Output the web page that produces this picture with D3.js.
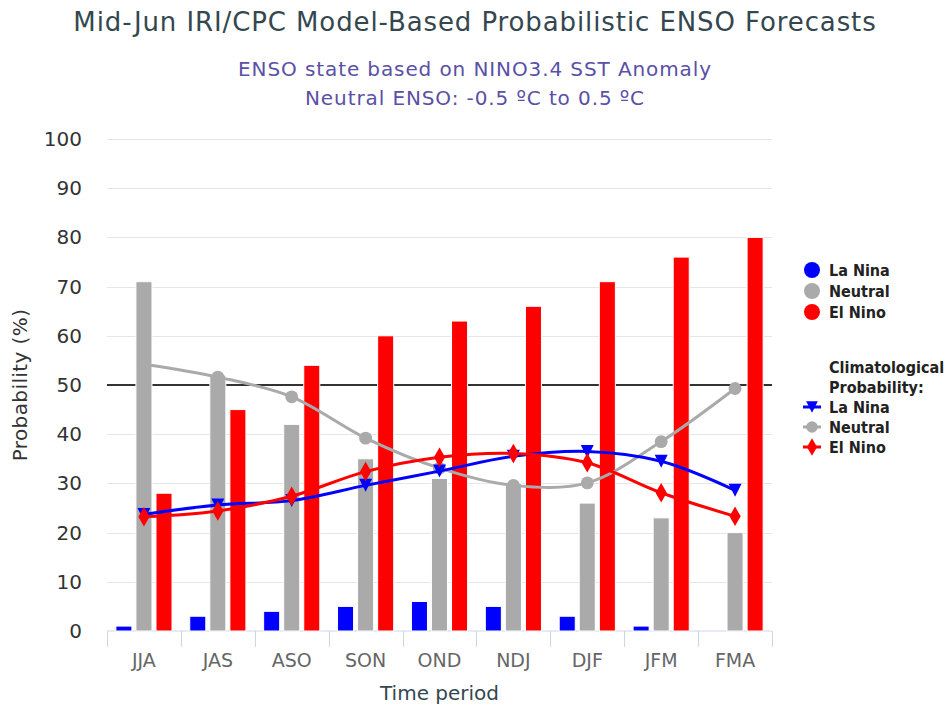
<!DOCTYPE html>
<meta charset="utf-8">
<style>
body { margin: 0; background: #fff; }
svg text { font-family: "DejaVu Sans", sans-serif; }
svg text.cond { font-family: "DejaVu Sans Condensed", "DejaVu Sans", sans-serif; }
.grid line { stroke: #e6e6e6; }
</style>
<body>
<div id="chart"></div>
<script src="https://cdnjs.cloudflare.com/ajax/libs/d3/7.8.5/d3.min.js"></script>
<script>
// seasons
var periods = ["JJA", "JAS", "ASO", "SON", "OND", "NDJ", "DJF", "JFM", "FMA"];

// model forecast probabilities (bars)
var laNina  = [1, 3, 4, 5, 6, 5, 3, 1, 0];
var neutral = [71, 52, 42, 35, 31, 30, 26, 23, 20];
var elNino  = [28, 45, 54, 60, 63, 66, 71, 76, 80];

// climatological probabilities (lines)
var climLaNina  = [23.7, 25.6, 26.5, 29.6, 32.5, 35.5, 36.5, 34.5, 28.6];
var climNeutral = [54.2, 51.6, 47.6, 39.2, 33.1, 29.6, 30.1, 38.5, 49.3];
var climElNino  = [23.2, 24.4, 27.4, 32.4, 35.3, 36.1, 34.2, 28.1, 23.3];

var yTicks = [0, 10, 20, 30, 40, 50, 60, 70, 80, 90, 100];

var seriesNames = ["La Nina", "Neutral", "El Nino"];
var colors = {"La Nina": "#0000ff", "Neutral": "#aaaaaa", "El Nino": "#ff0000"};

var W = 950, H = 706;
var margin = {top: 139, right: 178, bottom: 75, left: 107};
var width = W - margin.left - margin.right,
    height = H - margin.top - margin.bottom;

var svg = d3.select("#chart").append("svg")
    .attr("width", W)
    .attr("height", H);

// titles
svg.append("text")
    .attr("x", 475).attr("y", 31)
    .attr("text-anchor", "middle")
    .style("font-size", "26px")
    .style("letter-spacing", "0.9px")
    .attr("fill", "#34474f")
    .text("Mid-Jun IRI/CPC Model-Based Probabilistic ENSO Forecasts");

svg.append("text")
    .attr("x", 475).attr("y", 76)
    .attr("text-anchor", "middle")
    .style("font-size", "20px")
    .style("letter-spacing", "0.9px")
    .attr("fill", "#5a50a6")
    .text("ENSO state based on NINO3.4 SST Anomaly");

svg.append("text")
    .attr("x", 475).attr("y", 105)
    .attr("text-anchor", "middle")
    .style("font-size", "20px")
    .style("letter-spacing", "0.9px")
    .attr("fill", "#5a50a6")
    .text("Neutral ENSO: -0.5 \u00baC to 0.5 \u00baC");

var g = svg.append("g")
    .attr("transform", "translate(" + margin.left + "," + margin.top + ")");

var x0 = d3.scaleBand().domain(periods).range([0, width]);
var x1 = d3.scaleBand().domain(seriesNames)
    .range([x0.bandwidth() * 0.12, x0.bandwidth() * 0.88])
    .paddingInner(0.2);
var y = d3.scaleLinear().domain([0, 100]).range([height, 0]);

// grid
g.append("g").attr("class", "grid")
  .selectAll("line")
  .data(yTicks.slice(1))
  .enter().append("line")
    .attr("x1", 0).attr("x2", width)
    .attr("y1", function(d) { return Math.round(y(d)) + 0.5; })
    .attr("y2", function(d) { return Math.round(y(d)) + 0.5; });

// y labels
g.append("g").selectAll("text")
  .data(yTicks)
  .enter().append("text")
    .attr("x", -25)
    .attr("y", function(d) { return y(d); })
    .attr("dy", "0.35em")
    .attr("text-anchor", "end")
    .style("font-size", "20px")
    .attr("fill", "#333")
    .text(function(d) { return d; });

// 50% line
g.append("line")
    .attr("x1", 0).attr("x2", width)
    .attr("y1", y(50)).attr("y2", y(50))
    .attr("stroke", "#333").attr("stroke-width", 2);

// x axis
var xaxis = g.append("g")
    .attr("transform", "translate(0," + height + ")");
xaxis.append("line")
    .attr("x1", 0).attr("x2", width)
    .attr("stroke", "#ccd6eb");
xaxis.selectAll(".tk")
  .data(periods.concat(["end"]))
  .enter().append("line")
    .attr("x1", function(d, i) { return Math.round(i * x0.step()) + 0.5; })
    .attr("x2", function(d, i) { return Math.round(i * x0.step()) + 0.5; })
    .attr("y1", 0).attr("y2", 16)
    .attr("stroke", "#ccd6eb");
xaxis.selectAll(".lbl")
  .data(periods)
  .enter().append("text")
    .attr("x", function(d) { return x0(d) + x0.bandwidth() / 2; })
    .attr("y", 36)
    .attr("text-anchor", "middle")
    .style("font-size", "19px")
    .attr("fill", "#666")
    .text(function(d) { return d; });

// axis titles
svg.append("text")
    .attr("x", margin.left + width / 2).attr("y", 700)
    .attr("text-anchor", "middle")
    .style("font-size", "20px")
    .attr("fill", "#34474f")
    .text("Time period");

svg.append("text")
    .attr("transform", "translate(27," + (margin.top + height / 2) + ") rotate(-90)")
    .attr("text-anchor", "middle")
    .style("font-size", "20px")
    .style("letter-spacing", "0.4px")
    .attr("fill", "#333")
    .text("Probability (%)");

// bars
var barData = [];
periods.forEach(function(p, i) {
  barData.push({period: p, name: "La Nina", value: laNina[i]});
  barData.push({period: p, name: "Neutral", value: neutral[i]});
  barData.push({period: p, name: "El Nino", value: elNino[i]});
});

g.selectAll(".bar")
  .data(barData.filter(function(d) { return d.value > 0; }))
  .enter().append("rect")
    .attr("class", "bar")
    .attr("x", function(d) { return x0(d.period) + x1(d.name); })
    .attr("width", x1.bandwidth())
    .attr("y", function(d) { return y(d.value); })
    .attr("height", function(d) { return height - y(d.value); })
    .attr("fill", function(d) { return colors[d.name]; })
    .attr("stroke", "#fff")
    .attr("stroke-width", 1);

// climatology lines
var climSeries = [
  {name: "Neutral", values: climNeutral, symbol: d3.symbolCircle},
  {name: "La Nina", values: climLaNina, symbol: "tri"},
  {name: "El Nino", values: climElNino, symbol: d3.symbolDiamond}
];

var line = d3.line()
    .x(function(d, i) { return x0(periods[i]) + x0.bandwidth() / 2; })
    .y(function(d) { return y(d); })
    .curve(d3.curveCatmullRom.alpha(0.5));

function drawMarker(sel, s, cx, cy, scale) {
  scale = scale || 1;
  if (s.symbol === "tri") {
    var a = 6.5 * scale;
    sel.append("path")
      .attr("d", "M" + (cx - a) + "," + (cy - a) + "L" + (cx + a) + "," + (cy - a) + "L" + cx + "," + (cy + a) + "Z")
      .attr("fill", colors[s.name]);
  } else {
    var size = s.symbol === d3.symbolCircle ? 130 : 110;
    sel.append("path")
      .attr("d", d3.symbol().type(s.symbol).size(size * scale * scale)())
      .attr("transform", "translate(" + cx + "," + cy + ")")
      .attr("fill", colors[s.name]);
  }
}

climSeries.forEach(function(s) {
  g.append("path")
    .datum(s.values)
    .attr("d", line)
    .attr("fill", "none")
    .attr("stroke", colors[s.name])
    .attr("stroke-width", 3);
  var mg = g.append("g");
  s.values.forEach(function(v, i) {
    drawMarker(mg, s, x0(periods[i]) + x0.bandwidth() / 2, y(v));
  });
});

// legend
var leg = svg.append("g");
function legText(x, yy, t) {
  leg.append("text")
    .attr("class", "cond")
    .attr("x", x).attr("y", yy).attr("dy", "0.35em")
    .style("font-size", "16px").style("font-weight", "bold")
    .attr("fill", "#222")
    .text(t);
}
seriesNames.forEach(function(n, i) {
  var yy = 270 + i * 21;
  leg.append("circle")
    .attr("cx", 812).attr("cy", yy).attr("r", 8)
    .attr("fill", colors[n]);
  legText(829, yy, n);
});

legText(829, 367, "Climatological");
legText(829, 387, "Probability:");

var legLines = [climSeries[1], climSeries[0], climSeries[2]];
legLines.forEach(function(s, i) {
  var yy = 407 + i * 20;
  leg.append("line")
    .attr("x1", 803).attr("x2", 821)
    .attr("y1", yy).attr("y2", yy)
    .attr("stroke", colors[s.name]).attr("stroke-width", 3);
  drawMarker(leg, s, 812, yy, 0.9);
  legText(829, yy, s.name);
});
</script>
</body>
